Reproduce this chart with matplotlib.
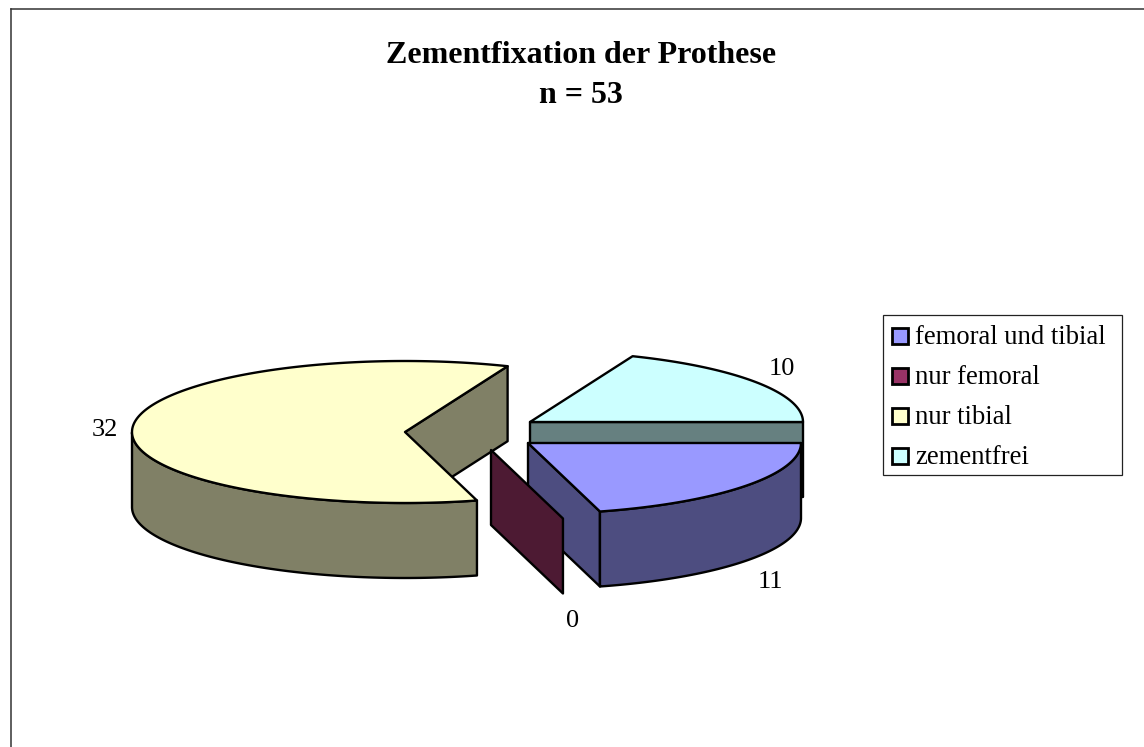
import matplotlib
matplotlib.use('Agg')
import matplotlib.pyplot as plt
import numpy as np
from matplotlib.patches import Polygon, Rectangle

plt.rcParams['font.family'] = ['Liberation Serif', 'DejaVu Serif']

title = 'Zementfixation der Prothese\nn = 53'
categories = ['femoral und tibial', 'nur femoral', 'nur tibial', 'zementfrei']
values = [11, 0, 32, 10]
top_colors = ['#9999FF', '#993366', '#FFFFCC', '#CCFFFF']
side_colors = ['#4D4D80', '#4D1A33', '#808066', '#668080']

# layout in pixels of the picture
centers = [(528, 443), (491, 450), (405, 432), (530, 422)]
label_pos = [(770, 582), (573, 621), (105, 430), (782, 369)]
rx, ry, depth = 273, 71, 75
lw = 1.7

fig = plt.figure(figsize=(11.44, 7.47), dpi=100)
ax = fig.add_axes([0, 0, 1, 1])
ax.set_xlim(0, 1144)
ax.set_ylim(747, 0)
ax.axis('off')


def rim(center, angles):
    a = np.radians(angles)
    return np.column_stack([center[0] + rx * np.cos(a), center[1] - ry * np.sin(a)])


def down(pts):
    return pts + np.array([0, depth])


def poly(pts, color, z):
    ax.add_patch(Polygon(pts, closed=True, fc=color, ec='black', lw=lw, joinstyle='round', zorder=z))


# slices run clockwise from 3 o'clock
ends = -np.cumsum(values) / sum(values) * 360
starts = np.concatenate([[0], ends[:-1]])
spans = [np.linspace(s, e, 200) for s, e in zip(starts, ends)]

# drawing order back to front: zementfrei, nur tibial, femoral und tibial, nur femoral
for z, i in enumerate([3, 2, 0, 1]):
    c = np.array(centers[i], dtype=float)
    arc = rim(c, spans[i])
    # the cut face at the clockwise end looks towards the viewer
    p = arc[-1]
    poly(np.array([c, p, p + [0, depth], c + [0, depth]]), side_colors[i], z * 10 + 1)
    # outer wall, only the part on the front of the ellipse
    front = np.sin(np.radians(spans[i])) <= 0
    if front.any() and values[i] > 0 and i != 3:
        wall = arc[front]
        poly(np.vstack([wall, down(wall)[::-1]]), side_colors[i], z * 10 + 2)
    if values[i] > 0:
        poly(np.vstack([c, arc]), top_colors[i], z * 10 + 3)

for v, (x, y) in zip(values, label_pos):
    ax.text(x, y, str(v), fontsize=19, ha='center', va='center', zorder=60)

ax.text(581, 75.5, title, fontsize=23, fontweight='bold', ha='center', va='center', linespacing=1.48)

# legend
ax.add_patch(Rectangle((883, 315), 239, 160, fc='white', ec='#222222', lw=0.9, zorder=70))
for k, name in enumerate(categories):
    y = 336 + 40 * k
    ax.add_patch(Rectangle((892, y - 8.5), 16, 16, fc=top_colors[k], ec='black', lw=2, zorder=71))
    ax.text(915, y + 2, name, fontsize=19.2, ha='left', va='center', zorder=71)

# chart frame runs off the picture on the right and at the bottom
ax.plot([10.5, 10.5], [747, 9], color='#333333', lw=1.1, zorder=80)
ax.plot([10.5, 1144], [9, 9], color='#333333', lw=1.1, zorder=80)

fig.savefig('out.png', dpi=100)
